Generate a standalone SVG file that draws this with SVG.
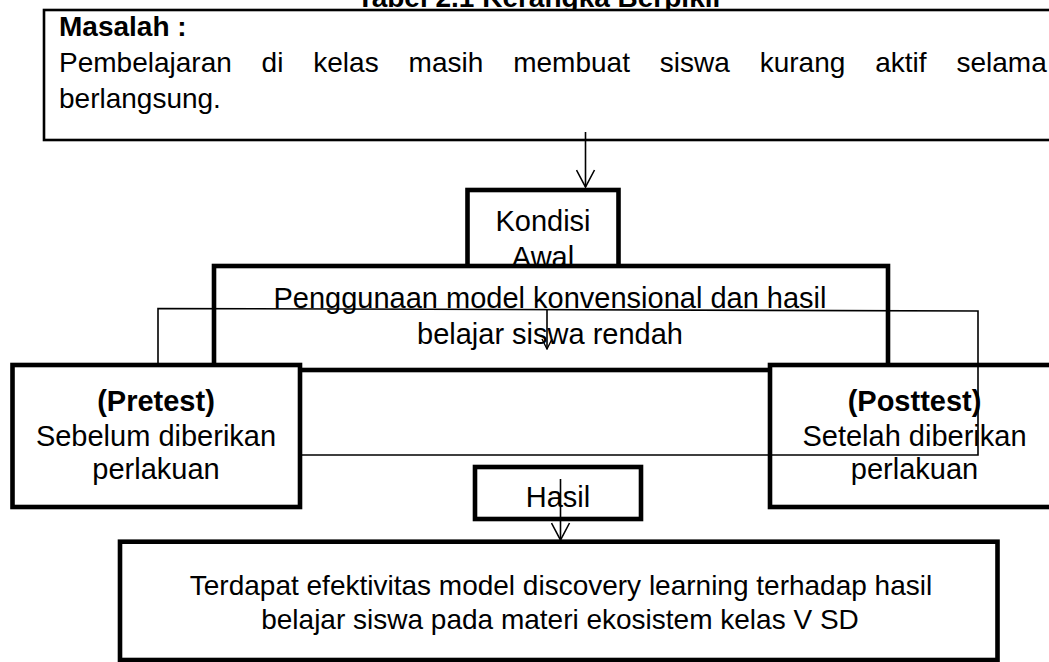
<svg xmlns="http://www.w3.org/2000/svg" width="1049" height="662" viewBox="0 0 1049 662">
<style>
text{font-family:"Liberation Sans",Arial,sans-serif;fill:#000}
.t{font-size:28px}
.m{font-size:29px}
.b{font-weight:bold}
.c{text-anchor:middle}
.box{fill:#fff;stroke:#000;stroke-width:4.6}
.thin{fill:none;stroke:#000;stroke-width:1.6}
</style>
<defs>
<marker id="ah" viewBox="0 0 20 20" refX="18" refY="10" markerWidth="20" markerHeight="20" markerUnits="userSpaceOnUse" orient="auto">
<path d="M1,1 L18,10 L1,19" fill="none" stroke="#000" stroke-width="1.6"/>
</marker>
<marker id="ahs" viewBox="0 0 12 12" refX="11" refY="6" markerWidth="12" markerHeight="12" markerUnits="userSpaceOnUse" orient="auto">
<path d="M1,1 L11,6 L1,11" fill="none" stroke="#000" stroke-width="1.4"/>
</marker>
</defs>
<rect width="1049" height="662" fill="#fff"/>
<text class="t b c" x="540" y="7">Tabel 2.1 Kerangka Berpikir</text>
<g id="masalah">
<rect x="44" y="10" width="1020" height="130" fill="#fff" stroke="#000" stroke-width="2.6"/>
<text class="t b" x="59" y="36">Masalah :</text>
<text class="t" y="72"><tspan x="59">Pembelajaran</tspan><tspan x="261.6">di</tspan><tspan x="313.3">kelas</tspan><tspan x="408.6">masih</tspan><tspan x="513.2">membuat</tspan><tspan x="659.8">siswa</tspan><tspan x="759.7">kurang</tspan><tspan x="875.2">aktif</tspan><tspan x="956.5">selama</tspan></text>
<text class="t" x="59" y="108">berlangsung.</text>
</g>
<g id="kondisi">
<rect class="box" x="467.5" y="190" width="151" height="90"/>
<text class="m c" x="543" y="231">Kondisi</text>
<text class="m c" x="543" y="267">Awal</text>
</g>
<g id="penggunaan">
<rect class="box" x="214" y="266" width="674" height="104"/>
<text class="m c" x="550" y="308">Penggunaan model konvensional dan hasil</text>
<text class="m c" x="550" y="344">belajar siswa rendah</text>
</g>
<g id="pretest">
<rect class="box" x="12.5" y="365" width="287.5" height="142"/>
<text class="m c b" x="156" y="411">(Pretest)</text>
<text class="m c" x="156" y="446">Sebelum diberikan</text>
<text class="m c" x="156" y="479">perlakuan</text>
</g>
<g id="posttest">
<rect class="box" x="770" y="365" width="300" height="142"/>
<text class="m c b" x="914.5" y="411">(Posttest)</text>
<text class="m c" x="914.5" y="446">Setelah diberikan</text>
<text class="m c" x="914.5" y="479">perlakuan</text>
</g>
<g id="hasil">
<rect class="box" x="475" y="467" width="166" height="52"/>
<text class="m c" x="558" y="507">Hasil</text>
</g>
<g id="kesimpulan">
<rect class="box" x="120" y="541.7" width="877.5" height="118.3"/>
<text class="t c" x="561" y="595">Terdapat efektivitas model discovery learning terhadap hasil</text>
<text class="t c" x="560" y="629">belajar siswa pada materi ekosistem kelas V SD</text>
</g>
<g id="connectors">
<line class="thin" x1="585.5" y1="132" x2="585.5" y2="187" marker-end="url(#ah)"/>
<line class="thin" x1="547" y1="309" x2="547" y2="349" marker-end="url(#ahs)"/>
<path class="thin" d="M158,365 V308.5 L978,311 V455 H302"/>
<line class="thin" x1="560.5" y1="479" x2="560.5" y2="540" marker-end="url(#ah)"/>
</g>
</svg>
